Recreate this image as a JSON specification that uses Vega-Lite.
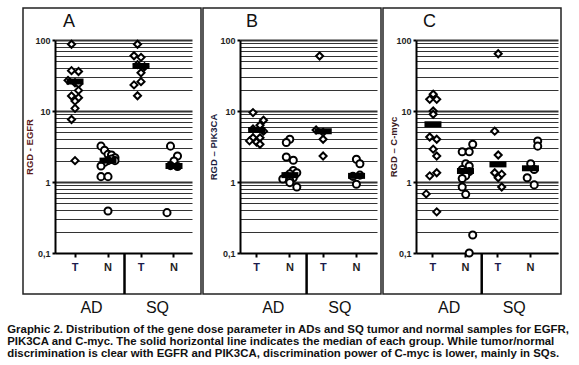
{
  "$schema": "https://vega.github.io/schema/vega-lite/v6.json",
  "padding": {"left": 7, "top": 7, "right": 0, "bottom": 0},
  "background": "white",
  "spacing": 0,
  "title": {
    "text": [
      "Graphic 2. Distribution of the gene dose parameter in ADs and SQ tumor and normal samples for EGFR,",
      "PIK3CA and C-myc. The solid horizontal line indicates the median of each group. While tumor/normal",
      "discrimination is clear with EGFR and PIK3CA, discrimination power of C-myc is lower, mainly in SQs."
    ],
    "orient": "bottom", "anchor": "start", "dx": -15, "offset": 7,
    "font": "Liberation Sans", "fontSize": 11.4, "fontWeight": "bold", "color": "#111", "lineHeight": 12.3
  },
  "datasets": {
    "pts": [
      {"p":"A","g":"AD-T","t":"T","v":87,"k":-1},{"p":"A","g":"AD-T","t":"T","v":37,"k":-1},{"p":"A","g":"AD-T","t":"T","v":36,"k":1},
      {"p":"A","g":"AD-T","t":"T","v":27,"k":-2},{"p":"A","g":"AD-T","t":"T","v":25,"k":0},{"p":"A","g":"AD-T","t":"T","v":24,"k":1},
      {"p":"A","g":"AD-T","t":"T","v":19.5,"k":1},{"p":"A","g":"AD-T","t":"T","v":16.3,"k":-1},{"p":"A","g":"AD-T","t":"T","v":15.4,"k":1},
      {"p":"A","g":"AD-T","t":"T","v":13.8,"k":0},{"p":"A","g":"AD-T","t":"T","v":10.9,"k":0},{"p":"A","g":"AD-T","t":"T","v":7.6,"k":-1},
      {"p":"A","g":"AD-T","t":"T","v":2.0,"k":0},
      {"p":"A","g":"AD-N","t":"N","v":3.2,"k":-2},{"p":"A","g":"AD-N","t":"N","v":2.8,"k":-1},{"p":"A","g":"AD-N","t":"N","v":2.45,"k":0},
      {"p":"A","g":"AD-N","t":"N","v":2.4,"k":1},{"p":"A","g":"AD-N","t":"N","v":2.2,"k":2},{"p":"A","g":"AD-N","t":"N","v":2.1,"k":1},
      {"p":"A","g":"AD-N","t":"N","v":2.0,"k":0},{"p":"A","g":"AD-N","t":"N","v":1.9,"k":-1},{"p":"A","g":"AD-N","t":"N","v":2.0,"k":2},
      {"p":"A","g":"AD-N","t":"N","v":1.68,"k":-2},{"p":"A","g":"AD-N","t":"N","v":1.19,"k":-2},{"p":"A","g":"AD-N","t":"N","v":1.19,"k":0},
      {"p":"A","g":"AD-N","t":"N","v":0.39,"k":0},
      {"p":"A","g":"SQ-T","t":"T","v":87,"k":-1},{"p":"A","g":"SQ-T","t":"T","v":60,"k":-2},{"p":"A","g":"SQ-T","t":"T","v":57,"k":0},
      {"p":"A","g":"SQ-T","t":"T","v":45,"k":-1},{"p":"A","g":"SQ-T","t":"T","v":42,"k":1},{"p":"A","g":"SQ-T","t":"T","v":34.5,"k":0},
      {"p":"A","g":"SQ-T","t":"T","v":25.9,"k":0},{"p":"A","g":"SQ-T","t":"T","v":23.3,"k":-2},{"p":"A","g":"SQ-T","t":"T","v":16.4,"k":-1},
      {"p":"A","g":"SQ-N","t":"N","v":3.2,"k":-1},{"p":"A","g":"SQ-N","t":"N","v":2.32,"k":1},{"p":"A","g":"SQ-N","t":"N","v":1.98,"k":0},
      {"p":"A","g":"SQ-N","t":"N","v":1.7,"k":-1},{"p":"A","g":"SQ-N","t":"N","v":1.65,"k":1},{"p":"A","g":"SQ-N","t":"N","v":0.37,"k":-2},

      {"p":"B","g":"AD-T","t":"T","v":9.5,"k":-1},{"p":"B","g":"AD-T","t":"T","v":7.4,"k":2},{"p":"B","g":"AD-T","t":"T","v":6.3,"k":1},
      {"p":"B","g":"AD-T","t":"T","v":5.6,"k":-1},{"p":"B","g":"AD-T","t":"T","v":5.2,"k":2},{"p":"B","g":"AD-T","t":"T","v":4.2,"k":-1},
      {"p":"B","g":"AD-T","t":"T","v":4.2,"k":1},{"p":"B","g":"AD-T","t":"T","v":3.8,"k":-2},{"p":"B","g":"AD-T","t":"T","v":3.66,"k":0},
      {"p":"B","g":"AD-T","t":"T","v":3.4,"k":1},
      {"p":"B","g":"AD-N","t":"N","v":4.0,"k":0},{"p":"B","g":"AD-N","t":"N","v":3.6,"k":-1},{"p":"B","g":"AD-N","t":"N","v":2.25,"k":-1},
      {"p":"B","g":"AD-N","t":"N","v":2.02,"k":1},{"p":"B","g":"AD-N","t":"N","v":1.45,"k":1},{"p":"B","g":"AD-N","t":"N","v":1.35,"k":2},
      {"p":"B","g":"AD-N","t":"N","v":1.3,"k":0},{"p":"B","g":"AD-N","t":"N","v":1.2,"k":-1},{"p":"B","g":"AD-N","t":"N","v":1.15,"k":1},
      {"p":"B","g":"AD-N","t":"N","v":1.1,"k":-2},{"p":"B","g":"AD-N","t":"N","v":1.05,"k":0},{"p":"B","g":"AD-N","t":"N","v":0.98,"k":0},
      {"p":"B","g":"AD-N","t":"N","v":0.85,"k":2},
      {"p":"B","g":"SQ-T","t":"T","v":59.5,"k":-1},{"p":"B","g":"SQ-T","t":"T","v":5.4,"k":-2},{"p":"B","g":"SQ-T","t":"T","v":5.0,"k":0},
      {"p":"B","g":"SQ-T","t":"T","v":4.0,"k":0},{"p":"B","g":"SQ-T","t":"T","v":2.32,"k":0},
      {"p":"B","g":"SQ-N","t":"N","v":2.09,"k":0},{"p":"B","g":"SQ-N","t":"N","v":1.81,"k":1},{"p":"B","g":"SQ-N","t":"N","v":1.25,"k":1},
      {"p":"B","g":"SQ-N","t":"N","v":1.2,"k":-1},{"p":"B","g":"SQ-N","t":"N","v":0.93,"k":0},

      {"p":"C","g":"AD-T","t":"T","v":17.2,"k":0},{"p":"C","g":"AD-T","t":"T","v":14.6,"k":-1},{"p":"C","g":"AD-T","t":"T","v":14.6,"k":1},
      {"p":"C","g":"AD-T","t":"T","v":10,"k":0},{"p":"C","g":"AD-T","t":"T","v":9.0,"k":0},{"p":"C","g":"AD-T","t":"T","v":4.3,"k":-1},
      {"p":"C","g":"AD-T","t":"T","v":4.0,"k":1},{"p":"C","g":"AD-T","t":"T","v":2.9,"k":0},{"p":"C","g":"AD-T","t":"T","v":2.32,"k":1},
      {"p":"C","g":"AD-T","t":"T","v":1.22,"k":-1},{"p":"C","g":"AD-T","t":"T","v":1.35,"k":1},{"p":"C","g":"AD-T","t":"T","v":0.68,"k":-2},
      {"p":"C","g":"AD-T","t":"T","v":0.38,"k":1},
      {"p":"C","g":"AD-N","t":"N","v":2.67,"k":-1},{"p":"C","g":"AD-N","t":"N","v":2.67,"k":1},{"p":"C","g":"AD-N","t":"N","v":3.4,"k":2},
      {"p":"C","g":"AD-N","t":"N","v":1.81,"k":0},{"p":"C","g":"AD-N","t":"N","v":1.68,"k":1},{"p":"C","g":"AD-N","t":"N","v":1.5,"k":-1},
      {"p":"C","g":"AD-N","t":"N","v":1.4,"k":1},{"p":"C","g":"AD-N","t":"N","v":1.22,"k":0},{"p":"C","g":"AD-N","t":"N","v":1.12,"k":-1},
      {"p":"C","g":"AD-N","t":"N","v":0.85,"k":-1},{"p":"C","g":"AD-N","t":"N","v":0.67,"k":0},{"p":"C","g":"AD-N","t":"N","v":0.179,"k":2},
      {"p":"C","g":"AD-N","t":"N","v":0.1,"k":1},
      {"p":"C","g":"SQ-T","t":"T","v":64,"k":0},{"p":"C","g":"SQ-T","t":"T","v":5.2,"k":-1},{"p":"C","g":"SQ-T","t":"T","v":2.4,"k":0},
      {"p":"C","g":"SQ-T","t":"T","v":1.35,"k":-1},{"p":"C","g":"SQ-T","t":"T","v":1.29,"k":1},{"p":"C","g":"SQ-T","t":"T","v":1.15,"k":0},
      {"p":"C","g":"SQ-T","t":"T","v":0.85,"k":1},
      {"p":"C","g":"SQ-N","t":"N","v":3.78,"k":2},{"p":"C","g":"SQ-N","t":"N","v":3.2,"k":2},{"p":"C","g":"SQ-N","t":"N","v":1.81,"k":0},
      {"p":"C","g":"SQ-N","t":"N","v":1.5,"k":1},{"p":"C","g":"SQ-N","t":"N","v":1.15,"k":-1},{"p":"C","g":"SQ-N","t":"N","v":0.91,"k":1}
    ],
    "med": [
      {"p":"A","g":"AD-T","v":26},{"p":"A","g":"AD-N","v":2.0},{"p":"A","g":"SQ-T","v":43},{"p":"A","g":"SQ-N","v":1.68},
      {"p":"B","g":"AD-T","v":5.4},{"p":"B","g":"AD-N","v":1.25},{"p":"B","g":"SQ-T","v":5.2},{"p":"B","g":"SQ-N","v":1.22},
      {"p":"C","g":"AD-T","v":6.5},{"p":"C","g":"AD-N","v":1.43},{"p":"C","g":"SQ-T","v":1.77},{"p":"C","g":"SQ-N","v":1.56}
    ],
    "grp": [{"g":"AD-T","lab":"AD"},{"g":"SQ-T","lab":"SQ"}],
    "sep": [{"g":"AD-N"}]
  },
  "hconcat": [
    {
      "width": 178, "height": 286,
      "title": {"text": "A", "anchor": "start", "dx": 40, "offset": -23, "fontSize": 18, "fontWeight": "normal", "font": "Liberation Sans", "color": "#111"},
      "layer": [
        {
          "data": {"name": "pts"},
          "transform": [{"filter": "datum.p == 'A'"}],
          "mark": {"type": "point", "fill": "white", "stroke": "black", "strokeWidth": 2, "opacity": 1, "size": 50},
          "encoding": {
            "x": {"field": "g", "type": "nominal", "sort": null,
              "scale": {"domain": ["AD-T","AD-N","SQ-T","SQ-N"], "range": [32,169], "paddingInner": 0, "paddingOuter": 0.076, "align": 0.7},
              "axis": {"title": null, "offset": -41, "domainColor": "black", "domainWidth": 2, "tickColor": "black", "tickWidth": 2, "tickSize": 4,
                "labelExpr": "substring(datum.value, 3)", "labelAngle": 0, "labelFont": "Liberation Sans", "labelFontSize": 11, "labelFontWeight": "bold",
                "labelColor": {"condition": {"test": "substring(datum.value, 3) == 'T'", "value": "#1b1b4d"}, "value": "#1e1e1e"}, "labelPadding": 4, "grid": false}},
            "xOffset": {"field": "k", "type": "ordinal", "scale": {"type": "point", "domain": [-2,-1,0,1,2], "range": [9.5,23.5], "padding": 0}},
            "y": {"field": "v", "type": "quantitative",
              "scale": {"type": "log", "domain": [0.1, 100], "range": [245, 32], "nice": false},
              "axis": {"title": "RGD - EGFR", "offset": -32, "titleX": -21,
                "values": [0.1,0.2,0.3,0.4,0.5,0.6,0.7,0.8,0.9,1,2,3,4,5,6,7,8,9,10,20,30,40,50,60,70,80,90,100],
                "labelExpr": "datum.value == 0.1 ? '0,1' : (datum.value == 1 || datum.value == 10 || datum.value == 100) ? format(datum.value, 'd') : ''",
                "grid": true, "gridColor": "#333",
                "gridWidth": {"condition": {"test": "datum.value == 1 || datum.value == 10 || datum.value == 100", "value": 2}, "value": 1},
                "tickColor": {"condition": {"test": "datum.value == 0.1 || datum.value == 1 || datum.value == 10 || datum.value == 100", "value": "black"}, "value": "transparent"},
                "tickSize": 3, "tickWidth": 2, "domainColor": "black", "domainWidth": 2,
                "labelFont": "Liberation Sans", "labelFontSize": 9, "labelFontWeight": "bold", "labelColor": "#1e1e1e", "labelPadding": 2,
                "labelOverlap": false, "labelBound": false, "labelFlush": false,
                "titleFont": "Liberation Sans", "titleFontSize": 9.5, "titleFontWeight": "bold", "titleColor": "#5b1c1c"}},
            "shape": {"field": "t", "type": "nominal", "scale": {"domain": ["T","N"], "range": ["diamond","circle"]}, "legend": null}
          }
        },
        {
          "data": {"name": "med"},
          "transform": [{"filter": "datum.p == 'A'"}],
          "mark": {"type": "tick", "orient": "horizontal", "thickness": 6, "size": 17, "color": "black", "opacity": 1},
          "encoding": {"x": {"field": "g", "type": "nominal"}, "y": {"field": "v", "type": "quantitative"}}
        },
        {
          "data": {"name": "sep"},
          "mark": {"type": "rule", "strokeWidth": 2.5, "color": "black"},
          "encoding": {"x": {"field": "g", "type": "nominal", "bandPosition": 1}, "y": {"datum": 0.1, "type": "quantitative"}, "y2": {"value": "height"}}
        },
        {
          "data": {"name": "grp"},
          "mark": {"type": "text", "fontSize": 16, "font": "Liberation Sans", "dy": 14, "color": "#111"},
          "encoding": {"x": {"field": "g", "type": "nominal", "bandPosition": 1}, "y": {"value": "height"}, "text": {"field": "lab"}}
        }
      ]
    },
    {
      "width": 178, "height": 286,
      "title": {"text": "B", "anchor": "start", "dx": 43, "offset": -23, "fontSize": 18, "fontWeight": "normal", "font": "Liberation Sans", "color": "#111"},
      "layer": [
        {
          "data": {"name": "pts"},
          "transform": [{"filter": "datum.p == 'B'"}],
          "mark": {"type": "point", "fill": "white", "stroke": "black", "strokeWidth": 2, "opacity": 1, "size": 50},
          "encoding": {
            "x": {"field": "g", "type": "nominal", "sort": null,
              "scale": {"domain": ["AD-T","AD-N","SQ-T","SQ-N"], "range": [37,174], "paddingInner": 0, "paddingOuter": 0.057, "align": 0},
              "axis": {"title": null, "offset": -41, "domainColor": "black", "domainWidth": 2, "tickColor": "black", "tickWidth": 2, "tickSize": 4,
                "labelExpr": "substring(datum.value, 3)", "labelAngle": 0, "labelFont": "Liberation Sans", "labelFontSize": 11, "labelFontWeight": "bold",
                "labelColor": {"condition": {"test": "substring(datum.value, 3) == 'T'", "value": "#1b1b4d"}, "value": "#1e1e1e"}, "labelPadding": 4, "grid": false}},
            "xOffset": {"field": "k", "type": "ordinal", "scale": {"type": "point", "domain": [-2,-1,0,1,2], "range": [9.6,23.6], "padding": 0}},
            "y": {"field": "v", "type": "quantitative",
              "scale": {"type": "log", "domain": [0.1, 100], "range": [245, 32], "nice": false},
              "axis": {"title": "RGD – PIK3CA", "offset": -37, "titleX": -22,
                "values": [0.1,0.2,0.3,0.4,0.5,0.6,0.7,0.8,0.9,1,2,3,4,5,6,7,8,9,10,20,30,40,50,60,70,80,90,100],
                "labelExpr": "datum.value == 0.1 ? '0,1' : (datum.value == 1 || datum.value == 10 || datum.value == 100) ? format(datum.value, 'd') : ''",
                "grid": true, "gridColor": "#333",
                "gridWidth": {"condition": {"test": "datum.value == 1 || datum.value == 10 || datum.value == 100", "value": 2}, "value": 1},
                "tickColor": {"condition": {"test": "datum.value == 0.1 || datum.value == 1 || datum.value == 10 || datum.value == 100", "value": "black"}, "value": "transparent"},
                "tickSize": 3, "tickWidth": 2, "domainColor": "black", "domainWidth": 2,
                "labelFont": "Liberation Sans", "labelFontSize": 9, "labelFontWeight": "bold", "labelColor": "#1e1e1e", "labelPadding": 2,
                "labelOverlap": false, "labelBound": false, "labelFlush": false,
                "titleFont": "Liberation Sans", "titleFontSize": 9.5, "titleFontWeight": "bold", "titleColor": "#1c1c3c"}},
            "shape": {"field": "t", "type": "nominal", "scale": {"domain": ["T","N"], "range": ["diamond","circle"]}, "legend": null}
          }
        },
        {
          "data": {"name": "med"},
          "transform": [{"filter": "datum.p == 'B'"}],
          "mark": {"type": "tick", "orient": "horizontal", "thickness": 6, "size": 17, "color": "black", "opacity": 1},
          "encoding": {"x": {"field": "g", "type": "nominal"}, "y": {"field": "v", "type": "quantitative"}}
        },
        {
          "data": {"name": "sep"},
          "mark": {"type": "rule", "strokeWidth": 2.5, "color": "black"},
          "encoding": {"x": {"field": "g", "type": "nominal", "bandPosition": 1}, "y": {"datum": 0.1, "type": "quantitative"}, "y2": {"value": "height"}}
        },
        {
          "data": {"name": "grp"},
          "mark": {"type": "text", "fontSize": 16, "font": "Liberation Sans", "dy": 14, "color": "#111"},
          "encoding": {"x": {"field": "g", "type": "nominal", "bandPosition": 1}, "y": {"value": "height"}, "text": {"field": "lab"}}
        }
      ]
    },
    {
      "width": 178, "height": 286,
      "title": {"text": "C", "anchor": "start", "dx": 40, "offset": -23, "fontSize": 18, "fontWeight": "normal", "font": "Liberation Sans", "color": "#111"},
      "layer": [
        {
          "data": {"name": "pts"},
          "transform": [{"filter": "datum.p == 'C'"}],
          "mark": {"type": "point", "fill": "white", "stroke": "black", "strokeWidth": 2, "opacity": 1, "size": 50},
          "encoding": {
            "x": {"field": "g", "type": "nominal", "sort": null,
              "scale": {"domain": ["AD-T","AD-N","SQ-T","SQ-N"], "range": [33,175], "paddingInner": 0, "paddingOuter": 0.185, "align": 0.06},
              "axis": {"title": null, "offset": -41, "domainColor": "black", "domainWidth": 2, "tickColor": "black", "tickWidth": 2, "tickSize": 4,
                "labelExpr": "substring(datum.value, 3)", "labelAngle": 0, "labelFont": "Liberation Sans", "labelFontSize": 11, "labelFontWeight": "bold",
                "labelColor": {"condition": {"test": "substring(datum.value, 3) == 'T'", "value": "#1b1b4d"}, "value": "#1e1e1e"}, "labelPadding": 4, "grid": false}},
            "xOffset": {"field": "k", "type": "ordinal", "scale": {"type": "point", "domain": [-2,-1,0,1,2], "range": [9.2,23.2], "padding": 0}},
            "y": {"field": "v", "type": "quantitative",
              "scale": {"type": "log", "domain": [0.1, 100], "range": [245, 32], "nice": false},
              "axis": {"title": "RGD – C-myc", "offset": -33, "titleX": -18,
                "values": [0.1,0.2,0.3,0.4,0.5,0.6,0.7,0.8,0.9,1,2,3,4,5,6,7,8,9,10,20,30,40,50,60,70,80,90,100],
                "labelExpr": "datum.value == 0.1 ? '0,1' : (datum.value == 1 || datum.value == 10 || datum.value == 100) ? format(datum.value, 'd') : ''",
                "grid": true, "gridColor": "#333",
                "gridWidth": {"condition": {"test": "datum.value == 1 || datum.value == 10 || datum.value == 100", "value": 2}, "value": 1},
                "tickColor": {"condition": {"test": "datum.value == 0.1 || datum.value == 1 || datum.value == 10 || datum.value == 100", "value": "black"}, "value": "transparent"},
                "tickSize": 3, "tickWidth": 2, "domainColor": "black", "domainWidth": 2,
                "labelFont": "Liberation Sans", "labelFontSize": 9, "labelFontWeight": "bold", "labelColor": "#1e1e1e", "labelPadding": 2,
                "labelOverlap": false, "labelBound": false, "labelFlush": false,
                "titleFont": "Liberation Sans", "titleFontSize": 9.5, "titleFontWeight": "bold", "titleColor": "#3c1c24"}},
            "shape": {"field": "t", "type": "nominal", "scale": {"domain": ["T","N"], "range": ["diamond","circle"]}, "legend": null}
          }
        },
        {
          "data": {"name": "med"},
          "transform": [{"filter": "datum.p == 'C'"}],
          "mark": {"type": "tick", "orient": "horizontal", "thickness": 6, "size": 17, "color": "black", "opacity": 1},
          "encoding": {"x": {"field": "g", "type": "nominal"}, "y": {"field": "v", "type": "quantitative"}}
        },
        {
          "data": {"name": "sep"},
          "mark": {"type": "rule", "strokeWidth": 2.5, "color": "black"},
          "encoding": {"x": {"field": "g", "type": "nominal", "bandPosition": 1}, "y": {"datum": 0.1, "type": "quantitative"}, "y2": {"value": "height"}}
        },
        {
          "data": {"name": "grp"},
          "mark": {"type": "text", "fontSize": 16, "font": "Liberation Sans", "dy": 14, "color": "#111"},
          "encoding": {"x": {"field": "g", "type": "nominal", "bandPosition": 1}, "y": {"value": "height"}, "text": {"field": "lab"}}
        }
      ]
    }
  ],
  "config": {"view": {"stroke": "#222", "strokeWidth": 1.5}, "concat": {"spacing": 0}}
}
